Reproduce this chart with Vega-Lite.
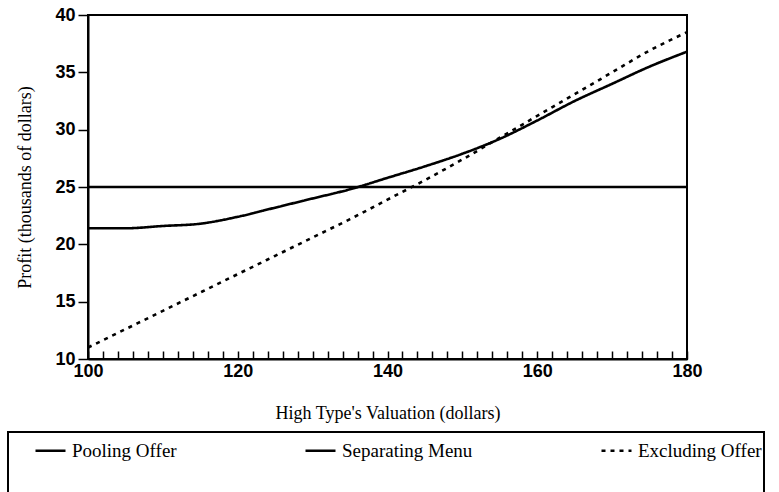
{
  "$schema": "https://vega.github.io/schema/vega-lite/v6.json",
  "width": 599,
  "height": 344,
  "autosize": {"type": "none"},
  "padding": {"left": 88, "top": 15, "right": 92, "bottom": 133},
  "background": "white",
  "config": {
    "view": {"stroke": "black", "strokeWidth": 2},
    "axis": {
      "grid": false,
      "domainColor": "black",
      "domainWidth": 2,
      "tickColor": "black",
      "tickWidth": 1.5,
      "labelColor": "black",
      "labelFont": "Liberation Sans",
      "labelFontWeight": "bold",
      "labelFontSize": 18,
      "labelFlush": false,
      "labelOverlap": false,
      "titleColor": "black",
      "titleFont": "Liberation Serif",
      "titleFontWeight": "normal",
      "titleFontSize": 18
    },
    "legend": {"strokeColor": "black", "strokeWidth": 2}
  },
  "data": {
    "values": [
      {"series": "Pooling Offer", "valuation": 100, "profit": 21.4},
      {"series": "Pooling Offer", "valuation": 105, "profit": 21.4},
      {"series": "Pooling Offer", "valuation": 110, "profit": 21.6},
      {"series": "Pooling Offer", "valuation": 115, "profit": 21.8},
      {"series": "Pooling Offer", "valuation": 120, "profit": 22.4},
      {"series": "Pooling Offer", "valuation": 125, "profit": 23.2},
      {"series": "Pooling Offer", "valuation": 130, "profit": 24.0},
      {"series": "Pooling Offer", "valuation": 135, "profit": 24.8},
      {"series": "Pooling Offer", "valuation": 140, "profit": 25.8},
      {"series": "Pooling Offer", "valuation": 145, "profit": 26.8},
      {"series": "Pooling Offer", "valuation": 150, "profit": 27.9},
      {"series": "Pooling Offer", "valuation": 155, "profit": 29.2},
      {"series": "Pooling Offer", "valuation": 160, "profit": 30.8},
      {"series": "Pooling Offer", "valuation": 165, "profit": 32.5},
      {"series": "Pooling Offer", "valuation": 170, "profit": 34.0},
      {"series": "Pooling Offer", "valuation": 175, "profit": 35.5},
      {"series": "Pooling Offer", "valuation": 180, "profit": 36.8},
      {"series": "Separating Menu", "valuation": 100, "profit": 25.0},
      {"series": "Separating Menu", "valuation": 180, "profit": 25.0},
      {"series": "Excluding Offer", "valuation": 100, "profit": 11.0},
      {"series": "Excluding Offer", "valuation": 105, "profit": 12.6},
      {"series": "Excluding Offer", "valuation": 110, "profit": 14.2},
      {"series": "Excluding Offer", "valuation": 115, "profit": 15.8},
      {"series": "Excluding Offer", "valuation": 120, "profit": 17.4},
      {"series": "Excluding Offer", "valuation": 125, "profit": 19.0},
      {"series": "Excluding Offer", "valuation": 130, "profit": 20.6},
      {"series": "Excluding Offer", "valuation": 135, "profit": 22.2},
      {"series": "Excluding Offer", "valuation": 140, "profit": 23.9},
      {"series": "Excluding Offer", "valuation": 145, "profit": 25.6},
      {"series": "Excluding Offer", "valuation": 150, "profit": 27.4},
      {"series": "Excluding Offer", "valuation": 155, "profit": 29.3},
      {"series": "Excluding Offer", "valuation": 160, "profit": 31.2},
      {"series": "Excluding Offer", "valuation": 165, "profit": 33.1},
      {"series": "Excluding Offer", "valuation": 170, "profit": 35.0},
      {"series": "Excluding Offer", "valuation": 175, "profit": 36.9},
      {"series": "Excluding Offer", "valuation": 180, "profit": 38.5}
    ]
  },
  "mark": {"type": "line", "color": "black", "strokeWidth": 2.6, "interpolate": "monotone"},
  "encoding": {
    "x": {
      "field": "valuation",
      "type": "quantitative",
      "scale": {"domain": [100, 180], "nice": false, "zero": false},
      "axis": {
        "title": "High Type's Valuation (dollars)",
        "values": [100,102,104,106,108,110,112,114,116,118,120,122,124,126,128,130,132,134,136,138,140,142,144,146,148,150,152,154,156,158,160,162,164,166,168,170,172,174,176,178,180],
        "labelExpr": "datum.value % 20 === 0 ? datum.label : ''",
        "tickSize": -8,
        "labelPadding": 11,
        "titlePadding": 24
      }
    },
    "y": {
      "field": "profit",
      "type": "quantitative",
      "scale": {"domain": [10, 40], "nice": false, "zero": false},
      "axis": {
        "title": "Profit (thousands of dollars)",
        "values": [10, 15, 20, 25, 30, 35, 40],
        "tickSize": 10,
        "labelPadding": 3,
        "titlePadding": 20
      }
    },
    "strokeDash": {
      "field": "series",
      "type": "nominal",
      "scale": {
        "domain": ["Pooling Offer", "Separating Menu", "Excluding Offer"],
        "range": [[1, 0], [1, 0], [4, 5]]
      },
      "legend": {
        "title": " ",
        "titleOrient": "bottom",
        "titleFontSize": 30,
        "titlePadding": 8,
        "orient": "none",
        "legendX": -80,
        "legendY": 417,
        "direction": "horizontal",
        "columns": 3,
        "symbolType": "stroke",
        "symbolSize": 900,
        "symbolStrokeWidth": 2.5,
        "symbolStrokeColor": "black",
        "symbolOffset": 24,
        "labelFont": "Liberation Serif",
        "labelFontSize": 19,
        "labelColor": "black",
        "labelLimit": 300,
        "labelOffset": 5,
        "columnPadding": 103,
        "padding": 2
      }
    }
  }
}
